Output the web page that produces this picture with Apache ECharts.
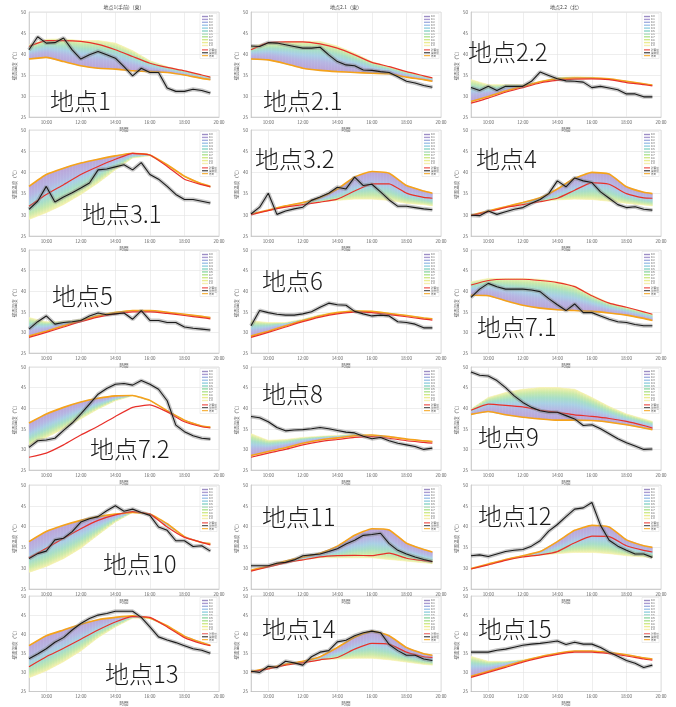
<!DOCTYPE html>
<html><head><meta charset="utf-8">
<script src="https://cdn.jsdelivr.net/npm/echarts@6/dist/echarts.min.js"></script>
<style>html,body{margin:0;padding:0;background:#fff}#c{width:676px;height:707px}</style>
</head><body><div id="c"></div>
<script>
// ---------- DATA ----------
const hoursModel = [9,10,11,12,13,14,15,16,17,18,19,19.5];
const hoursMeas = [9,9.5,10,10.5,11,11.5,12,12.5,13,13.5,14,14.5,15,15.5,16,16.5,17,17.5,18,18.5,19,19.5];
const xTickValues = [10,12,14,16,18,20];
const panelNames = ['地点1','地点2.1','地点2.2','地点3.1','地点3.2','地点4','地点5','地点6','地点7.1','地点7.2','地点8','地点9','地点10','地点11','地点12','地点13','地点14','地点15'];
const topTitles = ['地点1(手前)（東）','地点2.1（東）','地点2.2（北）'];
const legendLabels = ['0.0','0.1','0.2','0.3','0.4','0.5','0.6','0.7','0.8','0.9','1.0','計算値','実測値','外気'];

const p1_meas = [41.0,44.1,42.6,42.7,43.8,41.0,38.8,39.8,40.6,39.8,39.0,37.0,34.8,36.6,35.6,35.6,31.9,31.1,31.1,31.6,31.3,30.7];
const p1_red = [41.8,43.2,43.2,43.0,42.3,41.0,39.4,37.8,36.8,36.0,35.0,34.5];
const p1_orange = [38.8,39.2,38.2,37.2,36.6,36.4,36.0,35.8,35.6,35.0,34.2,33.9];
const p1_edge = [42.2,43.5,43.6,43.2,43.2,42.6,40.8,38.4,37.0,36.0,35.0,34.5];

const p21_meas = [41.9,41.8,42.7,42.6,42.2,41.8,41.4,41.4,41.6,39.8,38.2,37.4,37.2,36.2,36.1,35.8,35.6,34.6,33.5,33.1,32.5,32.1];
const p21_red = [41.0,42.7,42.9,42.9,42.4,41.4,39.8,38.0,37.0,35.8,34.8,34.3];
const p21_orange = [38.8,38.6,37.7,36.6,36.1,35.8,35.6,35.4,35.3,34.5,33.9,33.5];
const p21_edge = [41.8,42.7,42.9,43.0,43.0,41.9,40.2,38.2,37.0,35.8,34.8,34.3];

const p22_meas = [32.0,31.3,32.3,31.3,32.3,32.3,32.3,33.5,35.7,34.9,34.1,33.6,33.5,33.3,32.0,32.3,31.9,31.5,30.5,30.5,29.8,29.8];
const p22_red = [28.3,29.5,30.9,32.0,33.1,33.7,34.0,34.1,33.9,33.2,32.7,32.4];
const p22_orange = [28.7,29.9,31.2,32.3,33.4,34.1,34.3,34.3,34.1,33.5,32.9,32.6];
const p22_edge = [33.9,32.7,32.7,32.7,33.5,34.4,34.6,34.5,34.0,33.4,32.9,32.6];

const p31_meas = [31.3,33.2,36.7,33.0,34.2,35.2,36.3,37.5,40.6,40.8,41.3,41.8,40.6,42.3,39.5,38.4,36.7,34.8,33.6,33.6,33.2,32.8];
const p31_red = [32.0,34.8,37.1,39.5,41.4,43.1,44.5,44.1,41.4,38.4,37.1,36.6];
const p31_orange = [36.7,39.5,41.0,42.2,43.1,43.9,44.5,44.1,41.8,39.1,37.3,36.7];
const p31_edge = [28.9,30.5,32.4,34.8,37.5,40.6,43.4,43.9,41.6,38.9,37.1,36.5];

const p32_meas = [30.2,31.8,35.1,30.1,30.9,31.4,31.8,33.4,34.2,35.1,36.5,36.1,38.9,36.9,37.2,35.4,33.5,32.0,32.0,31.7,31.4,31.2];
const p32_red = [30.0,31.0,31.8,32.4,33.0,33.7,35.6,37.3,37.3,35.1,34.1,33.9];
const p32_orange = [30.2,31.1,32.1,32.9,34.1,36.1,38.9,40.2,39.8,36.9,35.6,35.1];
const p32_edge = [30.0,31.0,31.8,32.6,33.0,33.4,33.7,33.7,33.4,32.7,32.4,32.1];

const p4_meas = [29.9,29.8,30.9,30.1,30.7,31.3,31.7,32.7,33.6,35.0,38.0,36.6,38.7,38.0,37.6,35.4,33.9,32.4,31.7,31.9,31.3,31.1];
const p4_red = [29.8,30.7,31.7,32.4,33.1,33.9,35.8,37.6,37.2,35.0,34.0,33.9];
const p4_orange = [29.9,30.9,31.9,32.9,34.0,36.1,38.6,40.0,39.6,36.6,35.3,35.0];
const p4_edge = [29.8,30.7,31.7,32.5,33.1,33.5,33.7,33.6,33.2,32.7,32.3,32.1];

const p5_meas = [30.8,32.6,34.0,32.0,32.4,32.6,32.9,34.0,34.7,34.3,34.5,34.7,33.2,35.3,32.9,32.9,32.4,32.4,31.3,31.0,30.8,30.6];
const p5_red = [28.8,30.0,31.3,32.6,33.7,34.5,35.0,35.0,34.6,34.1,33.6,33.3];
const p5_orange = [29.1,30.3,31.6,32.9,34.0,34.8,35.3,35.3,34.9,34.4,33.9,33.6];
const p5_edge = [33.6,32.6,32.6,33.2,34.3,35.0,35.3,35.1,34.7,34.2,33.7,33.4];

const p6_meas = [31.6,35.3,34.8,34.4,34.2,34.2,34.5,35.0,36.1,37.1,36.7,36.6,35.1,34.5,34.0,34.2,34.0,32.6,32.4,32.0,31.1,31.1];
const p6_red = [28.8,30.0,31.3,32.6,33.7,34.5,34.9,34.8,34.3,33.8,33.2,33.0];
const p6_orange = [29.1,30.3,31.6,32.9,34.0,34.8,35.2,35.1,34.6,34.1,33.5,33.3];
const p6_edge = [32.8,32.4,32.4,33.2,34.3,35.0,35.3,35.2,34.7,34.2,33.6,33.3];

const p71_meas = [38.5,40.5,41.9,41.1,40.5,40.5,40.5,40.3,39.9,38.2,36.7,35.3,36.9,34.8,34.8,34.0,33.2,32.6,32.4,31.9,31.6,31.6];
const p71_red = [41.5,42.6,42.9,42.9,42.6,42.1,41.1,38.9,37.1,36.1,35.0,34.4];
const p71_orange = [39.0,38.9,37.7,36.6,35.9,35.5,35.3,35.1,34.7,34.2,33.4,32.9];
const p71_edge = [42.3,43.1,43.1,43.1,42.9,42.3,41.3,39.1,37.2,36.1,35.0,34.4];

const p72_meas = [30.5,32.1,32.3,32.7,34.6,36.4,38.6,41.0,43.4,44.8,45.8,46.0,45.6,46.7,45.8,44.6,41.8,35.9,34.3,33.3,32.7,32.5];
const p72_red = [28.1,29.1,31.1,33.5,35.6,38.0,40.2,40.8,39.1,36.7,35.5,35.2];
const p72_orange = [36.4,38.6,40.2,41.5,42.4,43.0,43.1,41.9,39.4,37.1,35.7,35.4];
const p72_edge = [31.0,32.9,35.0,37.4,39.8,41.8,43.0,41.8,39.3,37.0,35.6,35.3];

const p8_meas = [38.0,37.7,36.7,35.3,34.5,34.7,34.8,35.0,35.3,35.0,34.6,34.2,34.0,33.2,32.6,32.9,32.1,31.5,31.1,30.7,30.0,30.3];
const p8_red = [28.1,29.1,30.0,31.1,31.9,32.4,32.9,33.1,32.7,32.1,31.7,31.5];
const p8_orange = [28.5,29.5,30.4,31.5,32.3,32.8,33.3,33.5,33.1,32.5,32.1,31.9];
const p8_edge = [33.8,32.2,32.4,32.9,33.2,33.4,33.7,33.4,33.1,32.5,31.9,31.7];

const p9_meas = [48.8,48.0,47.8,46.7,45.0,43.0,41.4,40.2,39.4,39.0,39.0,38.2,37.4,35.8,36.0,35.0,33.8,32.6,31.6,30.8,30.0,30.1];
const p9_red = [39.5,41.0,40.7,40.3,39.5,39.0,38.4,38.0,37.5,36.8,35.8,35.2];
const p9_orange = [38.5,39.2,38.4,37.8,37.4,37.1,37.1,37.0,36.6,36.0,35.2,34.8];
const p9_edge = [39.8,42.6,43.8,44.6,45.0,45.0,44.6,42.6,40.4,38.6,37.4,36.8];

const p10_meas = [32.3,33.5,34.1,36.8,37.2,38.8,41.1,41.9,42.4,43.8,45.0,43.7,44.2,43.4,42.7,39.9,39.1,36.6,36.6,35.2,35.4,34.1];
const p10_red = [32.5,34.8,37.2,39.5,41.5,42.8,43.6,43.0,39.9,37.4,36.2,35.6];
const p10_orange = [36.4,38.8,40.3,41.5,42.4,43.0,43.4,43.0,40.7,37.6,36.2,35.9];
const p10_edge = [29.0,30.4,32.3,34.8,38.0,41.1,43.4,43.0,40.1,37.5,36.2,35.7];

const p11_meas = [30.6,30.6,30.6,31.2,31.4,32.0,33.0,33.2,33.4,34.0,34.7,35.8,36.7,37.9,38.1,38.4,35.9,34.3,33.4,32.7,32.1,31.6];
const p11_red = [29.3,30.3,31.3,32.0,32.7,33.0,33.1,33.0,33.6,32.4,31.8,31.6];
const p11_orange = [29.5,30.5,31.7,32.7,33.6,35.3,37.9,39.5,39.2,36.0,34.5,33.9];
const p11_edge = [29.3,30.3,31.3,32.0,32.5,32.5,32.5,32.5,32.1,31.7,31.3,31.1];

const p12_meas = [33.0,33.2,32.8,33.4,34.0,34.3,34.5,35.3,36.6,38.9,40.5,42.4,44.2,44.5,45.8,40.3,36.7,35.3,34.3,33.4,33.4,32.6];
const p12_red = [29.8,30.8,31.9,32.7,33.2,34.0,36.1,37.7,37.6,35.4,34.3,33.9];
const p12_orange = [29.9,31.0,32.1,33.0,34.0,36.4,39.1,40.3,39.9,36.8,35.4,35.0];
const p12_edge = [29.8,30.8,31.9,32.7,33.1,33.5,33.8,33.8,33.5,33.0,32.7,32.5];

const p13_meas = [33.6,34.8,36.2,37.9,39.1,41.1,42.8,44.1,45.0,45.4,46.0,46.0,46.0,44.4,41.9,39.3,38.5,37.8,37.0,36.2,35.8,35.0];
const p13_red = [31.5,34.1,36.3,38.7,41.1,43.2,44.6,44.4,41.9,39.1,37.5,37.0];
const p13_orange = [37.0,39.6,41.1,42.6,43.8,44.4,44.8,44.2,42.2,39.5,37.8,37.1];
const p13_edge = [28.6,30.4,32.8,35.6,39.1,41.9,44.2,44.1,41.9,39.3,37.6,37.0];

const p14_meas = [30.3,30.0,31.6,31.3,32.9,32.5,31.9,34.1,35.3,35.7,38.0,38.4,39.6,40.4,40.8,40.4,37.3,35.7,34.5,34.5,33.5,33.1];
const p14_red = [30.1,30.9,31.9,32.5,33.3,33.9,36.1,37.6,37.4,35.3,34.1,33.9];
const p14_orange = [30.2,31.1,32.1,32.9,34.1,36.5,39.2,40.8,39.6,36.5,34.9,34.5];
const p14_edge = [30.1,30.9,31.9,32.5,33.3,33.5,33.7,33.7,33.3,32.7,32.1,31.9];

const p15_meas = [35.3,35.3,35.3,35.8,36.1,36.6,37.1,37.4,37.6,37.9,38.2,37.3,37.9,37.4,37.4,36.5,35.3,34.2,33.1,32.4,31.3,31.9];
const p15_red = [28.7,30.0,31.3,32.7,33.8,34.7,35.3,35.3,34.9,34.3,33.5,33.2];
const p15_orange = [29.0,30.3,31.6,33.0,34.1,35.0,35.6,35.6,35.2,34.6,33.8,33.5];
const p15_edge = [34.2,32.9,32.9,33.3,34.1,34.9,35.5,35.5,35.2,34.6,33.8,33.5];

const panelData = [
  [p1_meas,p1_red,p1_orange,p1_edge],[p21_meas,p21_red,p21_orange,p21_edge],[p22_meas,p22_red,p22_orange,p22_edge],
  [p31_meas,p31_red,p31_orange,p31_edge],[p32_meas,p32_red,p32_orange,p32_edge],[p4_meas,p4_red,p4_orange,p4_edge],
  [p5_meas,p5_red,p5_orange,p5_edge],[p6_meas,p6_red,p6_orange,p6_edge],[p71_meas,p71_red,p71_orange,p71_edge],
  [p72_meas,p72_red,p72_orange,p72_edge],[p8_meas,p8_red,p8_orange,p8_edge],[p9_meas,p9_red,p9_orange,p9_edge],
  [p10_meas,p10_red,p10_orange,p10_edge],[p11_meas,p11_red,p11_orange,p11_edge],[p12_meas,p12_red,p12_orange,p12_edge],
  [p13_meas,p13_red,p13_orange,p13_edge],[p14_meas,p14_red,p14_orange,p14_edge],[p15_meas,p15_red,p15_orange,p15_edge]
];

// ---------- LAYOUT / STYLE ----------
const F = '"Noto Sans CJK JP","Noto Sans",sans-serif';
const colLeft = [29, 251, 471];
const plotW = 190;
const rowSpan = [[12,117],[130,236],[250,353],[367,470],[485,589],[596,702]];
const labelXY = [[50,89],[263,89],[468,40],[82,202],[255,147],[476,147],[52,284],[262,269],[477,315],[90,437],[262,382],[478,425],[103,552],[262,505],[478,504],[105,662],[262,617],[478,617]];
const fanColors = ['#9c8dc4','#aa9cd2','#a3b0e0','#9fc3e8','#94d0e0','#8ad5c6','#93d9a8','#b0e291','#d0e98a','#ecec92','#f5efb2'];
const lineColors = ['#e8302a','#1a1a1a','#f5a31a'];
const FAN_STOPS = [
  {offset:0, color:'#bba4d8'},{offset:0.3, color:'#b6b6e3'},{offset:0.5, color:'#a9cfe5'},
  {offset:0.68, color:'#a7dec8'},{offset:0.85, color:'#c8e9aa'},{offset:1, color:'#f5f1ad'}
];
const SUB = 6;

function pairs(xs, ys){ return xs.map((x,i)=>[x, ys[i]]); }
function lerp(p, q, t){ return [p[0]+(q[0]-p[0])*t, p[1]+(q[1]-p[1])*t]; }

const grid=[], xAxis=[], yAxis=[], series=[], graphic=[];
panelData.forEach((pd, i) => {
  const [meas, red, orange, edge] = pd;
  const col = i % 3, row = Math.floor(i / 3);
  const left = colLeft[col], top = rowSpan[row][0], h = rowSpan[row][1] - rowSpan[row][0];
  grid.push({left, top, width: plotW, height: h, show: true, borderColor: '#cfcfcf', borderWidth: 0.6, containLabel: false});
  xAxis.push({
    type:'value', gridIndex:i, min:9, max:20,
    name:'時間', nameLocation:'middle', nameGap:10,
    nameTextStyle:{fontSize:4.5, color:'#555', fontFamily:F},
    axisLine:{lineStyle:{color:'#bbb', width:0.6}},
    axisTick:{show:false, customValues:xTickValues},
    axisLabel:{customValues:xTickValues, formatter:v=>v+':00', fontSize:4.5, color:'#666', margin:3, fontFamily:F},
    splitLine:{show:true, lineStyle:{color:'#e2e2e2', width:0.6}}
  });
  yAxis.push({
    type:'value', gridIndex:i, min:25, max:50, interval:5,
    name:'壁面温度（℃）', nameLocation:'middle', nameGap:12, nameRotate:90,
    nameTextStyle:{fontSize:4.5, color:'#555', fontFamily:F},
    axisLine:{show:true, lineStyle:{color:'#bbb', width:0.6}},
    axisTick:{show:false},
    axisLabel:{fontSize:4.5, color:'#666', margin:3, fontFamily:F},
    splitLine:{show:true, lineStyle:{color:'#e2e2e2', width:0.6}}
  });
  const segs = [];
  for (let k=0; k<hoursModel.length-1; k++) segs.push([hoursModel[k], orange[k], edge[k], hoursModel[k+1], orange[k+1], edge[k+1]]);
  series.push({
    type:'custom', xAxisIndex:i, yAxisIndex:i, silent:true, z:1, clip:true,
    encode:{x:[0,3], y:[1,2,4,5]},
    data:segs,
    renderItem:(params, api) => {
      const a = api.coord([api.value(0), api.value(1)]);
      const b = api.coord([api.value(0), api.value(2)]);
      const c = api.coord([api.value(3), api.value(5)]);
      const d = api.coord([api.value(3), api.value(4)]);
      const children = [];
      for (let s=0; s<SUB; s++) {
        const t0 = s/SUB, t1 = (s+1)/SUB;
        const o0 = lerp(a,d,t0), o1 = lerp(a,d,t1), e0 = lerp(b,c,t0), e1 = lerp(b,c,t1);
        const mx = (o0[0]+o1[0])/2, yo = (o0[1]+o1[1])/2;
        let ye = (e0[1]+e1[1])/2;
        if (Math.abs(ye-yo) < 0.6) ye = yo + (ye >= yo ? 0.6 : -0.6);
        const grad = new echarts.graphic.LinearGradient(mx, yo, mx, ye, FAN_STOPS, true);
        children.push({type:'polygon', shape:{points:[o0,e0,e1,o1]}, style:{fill:grad, stroke:grad, lineWidth:0.6}});
      }
      return {type:'group', children};
    }
  });
  series.push({type:'line', xAxisIndex:i, yAxisIndex:i, data:pairs(hoursModel, orange), symbol:'none', smooth:0.15, silent:true, z:3,
    lineStyle:{color:'#f5a31a', width:1.6}});
  series.push({type:'line', xAxisIndex:i, yAxisIndex:i, data:pairs(hoursModel, red), symbol:'none', smooth:0.15, silent:true, z:4,
    lineStyle:{color:'#e8302a', width:1.2}});
  series.push({type:'line', xAxisIndex:i, yAxisIndex:i, data:pairs(hoursMeas, meas), symbol:'none', silent:true, z:5,
    lineStyle:{color:'rgba(130,130,130,0.45)', width:4}});
  series.push({type:'line', xAxisIndex:i, yAxisIndex:i, data:pairs(hoursMeas, meas), symbol:'none', silent:true, z:6,
    lineStyle:{color:'#1a1a1a', width:1.1}});

  const lx = left + plotW - 17, ly = top + 3;
  const kids = [{type:'rect', shape:{x:lx-2, y:ly-1.5, width:17, height:45}, style:{fill:'rgba(255,255,255,0.85)', stroke:'#dcdcdc', lineWidth:0.5}}];
  legendLabels.forEach((t, k) => {
    const yy = ly + 1.5 + k*2.9 + (k >= 11 ? 1.5 : 0);
    const colr = k < 11 ? fanColors[k] : lineColors[k-11];
    kids.push({type:'line', shape:{x1:lx, y1:yy, x2:lx+6, y2:yy}, style:{stroke:colr, lineWidth:k>=11?1:1.4}});
    kids.push({type:'text', x:lx+7, y:yy, style:{text:t, fontSize:2.6, fontFamily:F, fill:'#444', verticalAlign:'middle', align:'left'}});
  });
  graphic.push({type:'group', children:kids, silent:true, z:20});

  graphic.push({type:'text', x:labelXY[i][0], y:labelXY[i][1], silent:true, z:30,
    style:{text:panelNames[i], fontSize:24, fontWeight:300, fontFamily:F, fill:'#1a1a1a', align:'left', verticalAlign:'top'}});
  if (row === 0) {
    graphic.push({type:'text', x:left + plotW/2, y:top - 7, silent:true, z:30,
      style:{text:topTitles[col], fontSize:5, fontFamily:F, fill:'#444', align:'center', verticalAlign:'top'}});
  }
});

const chart = echarts.init(document.getElementById('c'), null, {renderer:'canvas'});
chart.setOption({animation:false, backgroundColor:'#fff', grid, xAxis, yAxis, series, graphic});
</script></body></html>
